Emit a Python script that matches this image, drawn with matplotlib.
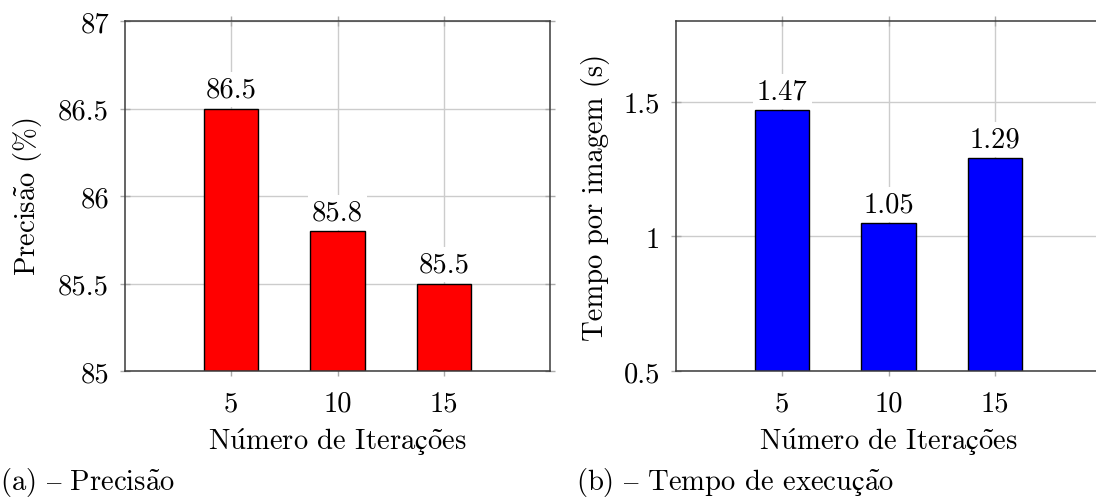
import matplotlib
matplotlib.use("Agg")
import matplotlib.pyplot as plt

plt.rcParams['font.family'] = ['cmr10', 'STIXGeneral']
plt.rcParams['mathtext.fontset'] = 'custom'
plt.rcParams['mathtext.rm'] = 'cmr10'
plt.rcParams['mathtext.it'] = 'cmr10'
plt.rcParams['mathtext.bf'] = 'cmr10'
plt.rcParams['mathtext.fallback'] = 'stix'
plt.rcParams['axes.formatter.use_mathtext'] = False

iteracoes = [5, 10, 15]
precisao = [86.5, 85.8, 85.5]
tempo = [1.47, 1.05, 1.29]
prec_labels = ["86.5", "85.8", "85.5"]
tempo_labels = ["1.47", "1.05", "1.29"]
prec_yticks = [85, 85.5, 86, 86.5, 87]
prec_yticklabels = ["85", "85.5", "86", "86.5", "87"]
tempo_yticks = [0.5, 1, 1.5]
tempo_yticklabels = ["0.5", "1", "1.5"]

xlabel_txt = r"N$\acute{\mathrm{u}}$mero de Itera$\mathrm{ç}\tilde{\mathrm{o}}$es"
ylabel1_txt = r"Precis$\tilde{\mathrm{a}}$o (%)"
ylabel2_txt = "Tempo por imagem (s)"
caption_a = r"(a) $\mathrm{–}$ Precis$\tilde{\mathrm{a}}$o"
caption_b = r"(b) $\mathrm{–}$ Tempo de execu$\mathrm{ç}\tilde{\mathrm{a}}$o"

W, H = 1096, 502
fig = plt.figure(figsize=(W / 100, H / 100), dpi=100)

FS = 20.6
grid_c = '#cccccc'
spine_c = '#3a3a3a'


def style(ax):
    ax.set_axisbelow(True)
    ax.grid(True, color=grid_c, linewidth=1.0)
    for s in ax.spines.values():
        s.set_color(spine_c)
        s.set_linewidth(1.1)
    ax.tick_params(direction='inout', length=7, width=1.0, color='#aaaaaa',
                   labelsize=FS, top=True, right=True)
    ax.tick_params(axis='x', pad=10)
    ax.tick_params(axis='y', pad=8)
    ax.set_xlim(0, 20)
    ax.set_xticks(iteracoes)
    ax.set_xticklabels([str(v) for v in iteracoes])
    ax.set_xlabel(xlabel_txt, fontsize=FS, labelpad=7)


ax1 = fig.add_axes([125 / W, 130 / H, 425 / W, 350 / H])
bars1 = ax1.bar(iteracoes, [p - 85 for p in precisao], bottom=85, width=2.55,
                color='#ff0000', edgecolor='black', linewidth=1.0, zorder=2)
style(ax1)
ax1.set_ylim(85, 87)
ax1.set_yticks(prec_yticks)
ax1.set_yticklabels(prec_yticklabels)
ax1.set_ylabel(ylabel1_txt, fontsize=FS, labelpad=10)
for b, lab in zip(bars1, prec_labels):
    ax1.annotate(lab, (b.get_x() + b.get_width() / 2, b.get_y() + b.get_height()),
                 xytext=(0, 4), textcoords='offset points', ha='center', va='bottom',
                 fontsize=FS, bbox=dict(boxstyle='square,pad=0.15', fc='white', ec='none'),
                 zorder=5)

ax2 = fig.add_axes([676 / W, 130 / H, 425 / W, 350 / H])
bars2 = ax2.bar(iteracoes, [t - 0.5 for t in tempo], bottom=0.5, width=2.55,
                color='#0000ff', edgecolor='black', linewidth=1.0, zorder=2)
style(ax2)
ax2.set_ylim(0.5, 1.8)
ax2.set_yticks(tempo_yticks)
ax2.set_yticklabels(tempo_yticklabels)
ax2.set_ylabel(ylabel2_txt, fontsize=FS, labelpad=10)
for b, lab in zip(bars2, tempo_labels):
    ax2.annotate(lab, (b.get_x() + b.get_width() / 2, b.get_y() + b.get_height()),
                 xytext=(0, 4), textcoords='offset points', ha='center', va='bottom',
                 fontsize=FS, bbox=dict(boxstyle='square,pad=0.15', fc='white', ec='none'),
                 zorder=5)

fig.text(0 / W, 1 - 483 / H, caption_a, fontsize=FS, ha='left', va='center')
fig.text(576 / W, 1 - 483 / H, caption_b, fontsize=FS, ha='left', va='center')

fig.savefig("out.png", dpi=100)
